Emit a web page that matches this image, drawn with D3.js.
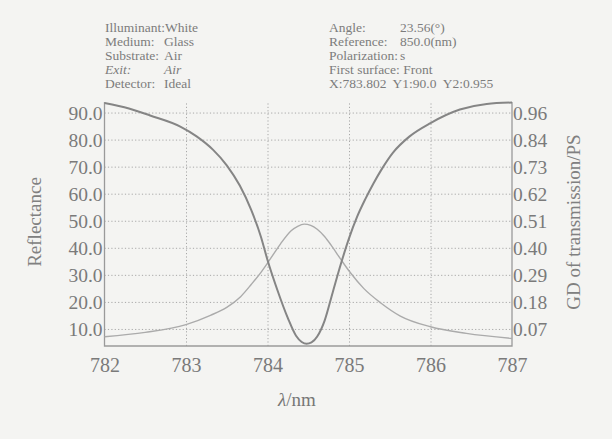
<!DOCTYPE html>
<html>
<head>
<meta charset="utf-8">
<script src="https://cdn.jsdelivr.net/npm/d3@7"></script>
<style>
  body { margin: 0; background: #f4f4f2; }
  svg { display: block; font-family: "Liberation Serif", "DejaVu Serif", serif; }
  .axis path, .axis line { stroke: none; }
  .axis text { fill: #7a7a7a; font-family: "Liberation Serif", serif; }
  .grid line { stroke: #a8a8a8; stroke-dasharray: 1.2, 2.2; }
  .grid path { stroke: none; }
  .info { fill: #7c7c7c; font-size: 13.5px; }
</style>
</head>
<body>
<svg id="chart"></svg>
<script>
const width = 612;
const height = 439;

// wavelength (nm) / reflectance (%)
const reflWl  = [782.0, 782.3, 782.56, 782.93, 783.13, 783.33, 783.5, 783.66, 783.8, 783.92, 784.0, 784.12, 784.25, 784.35, 784.42, 784.48, 784.54, 784.61, 784.7, 784.8, 784.9, 785.0, 785.1, 785.2, 785.3, 785.4, 785.54, 785.74, 786.0, 786.36, 786.69, 787.0];
const reflVal = [93.5, 91.5, 88.9, 84.8, 81.2, 76.3, 70.5, 63.0, 54.0, 44.0, 35.5, 24.5, 14.0, 7.5, 5.2, 4.5, 5.0, 7.2, 13.0, 23.5, 34.0, 43.5, 51.5, 58.0, 63.8, 69.0, 75.2, 81.1, 86.1, 91.1, 93.2, 93.7];

// wavelength (nm) / GD of transmission (ps)
const gdWl  = [782.0, 782.5, 783.0, 783.3, 783.5, 783.67, 783.8, 783.92, 784.0, 784.08, 784.16, 784.29, 784.37, 784.45, 784.53, 784.61, 784.7, 784.78, 784.9, 785.02, 785.18, 785.39, 785.63, 786.0, 786.44, 787.0];
const gdVal = [0.038, 0.056, 0.088, 0.126, 0.159, 0.203, 0.253, 0.303, 0.341, 0.381, 0.420, 0.474, 0.492, 0.501, 0.496, 0.480, 0.450, 0.415, 0.356, 0.300, 0.237, 0.177, 0.123, 0.079, 0.052, 0.031];

const xTicks = [782, 783, 784, 785, 786, 787];
const leftTicks = [10, 20, 30, 40, 50, 60, 70, 80, 90];
const rightTickLabels = ['0.07', '0.18', '0.29', '0.40', '0.51', '0.62', '0.73', '0.84', '0.96'];

const infoLeft = [['Illuminant:White', ''], ['Medium:', 'Glass'], ['Substrate:', 'Air'], ['Exit:', 'Air'], ['Detector:', 'Ideal']];
const infoRight = [['Angle:', '23.56(\u00b0)'], ['Reference:', '850.0(nm)'], ['Polarization:', 's'], ['First surface: Front', ''], ['X:783.802  Y1:90.0  Y2:0.955', '']];

const plot = {left: 104.5, right: 512, top: 102, bottom: 346};

const svg = d3.select('#chart').attr('width', width).attr('height', height);

svg.append('rect').attr('width', width).attr('height', height).attr('fill', '#f4f4f2');

const x = d3.scaleLinear().domain([782, 787]).range([plot.left, plot.right]);
const y = d3.scaleLinear().domain([3.7, 93.9]).range([plot.bottom, plot.top]);
const y2 = d3.scaleLinear().domain([0, 1.0034]).range([plot.bottom, plot.top]);

// grid
svg.append('g').attr('class', 'grid')
    .attr('transform', `translate(0, ${plot.bottom})`)
    .call(d3.axisBottom(x).tickValues([783, 784, 785, 786]).tickSize(-(plot.bottom - plot.top)).tickFormat(''));
svg.append('g').attr('class', 'grid')
    .attr('transform', `translate(${plot.left}, 0)`)
    .call(d3.axisLeft(y).tickValues(leftTicks).tickSize(-(plot.right - plot.left)).tickFormat(''));

// frame: left, right, bottom
svg.append('path')
    .attr('d', `M${plot.left},${plot.top}V${plot.bottom}H${plot.right}V${plot.top}`)
    .attr('fill', 'none').attr('stroke', '#9a9a9a').attr('stroke-width', 1.3);

// axes
const xAxis = svg.append('g').attr('class', 'axis')
    .attr('transform', `translate(0, ${plot.bottom})`)
    .call(d3.axisBottom(x).tickValues(xTicks).tickFormat(d3.format('d')).tickSize(0).tickPadding(12));
xAxis.selectAll('text').style('font-size', '20px');

const yAxis = svg.append('g').attr('class', 'axis')
    .attr('transform', `translate(${plot.left - 1}, 0)`)
    .call(d3.axisLeft(y).tickValues(leftTicks).tickFormat(d3.format('.1f')).tickSize(0).tickPadding(1));
yAxis.selectAll('text').style('font-size', '19.5px').attr('dy', '0.36em');

const yAxis2 = svg.append('g').attr('class', 'axis')
    .attr('transform', `translate(${plot.right}, 0)`)
    .call(d3.axisRight(y).tickValues(leftTicks).tickFormat((d, i) => rightTickLabels[i]).tickSize(0).tickPadding(1));
yAxis2.selectAll('text').style('font-size', '19.5px').attr('dy', '0.36em');

// curves
const reflData = reflWl.map((w, i) => ({w: w, v: reflVal[i]}));
const gdData = gdWl.map((w, i) => ({w: w, v: gdVal[i]}));

svg.append('path')
    .datum(gdData)
    .attr('fill', 'none')
    .attr('stroke', '#ababab')
    .attr('stroke-width', 1.4)
    .attr('d', d3.line().curve(d3.curveMonotoneX)
        .x(function(d) { return x(d.w); })
        .y(function(d) { return y2(d.v); }));

svg.append('path')
    .datum(reflData)
    .attr('fill', 'none')
    .attr('stroke', '#858585')
    .attr('stroke-width', 2)
    .attr('d', d3.line().curve(d3.curveMonotoneX)
        .x(function(d) { return x(d.w); })
        .y(function(d) { return y(d.v); }));

// axis titles
svg.append('text')
    .attr('x', 297).attr('y', 406)
    .attr('text-anchor', 'middle')
    .attr('fill', '#777').style('font-size', '19px')
    .html('<tspan font-style="italic">\u03bb</tspan>/nm');

svg.append('text')
    .attr('transform', 'translate(41, 222) rotate(-90)')
    .attr('text-anchor', 'middle')
    .attr('fill', '#808080').style('font-size', '19px')
    .text('Reflectance');

svg.append('text')
    .attr('transform', 'translate(580, 222) rotate(-90)')
    .attr('text-anchor', 'middle')
    .attr('fill', '#808080').style('font-size', '19px')
    .text('GD of transmission/PS');

// header info
const rowY = [31.5, 45.8, 60, 74.2, 88.4];
infoLeft.forEach(function(r, i) {
    const italic = r[0] == 'Exit:';
    svg.append('text').attr('class', 'info').attr('x', 105).attr('y', rowY[i])
        .style('font-style', italic ? 'italic' : 'normal').text(r[0]);
    if (r[1]) {
        svg.append('text').attr('class', 'info').attr('x', 164).attr('y', rowY[i])
            .style('font-style', italic ? 'italic' : 'normal').text(r[1]);
    }
});
infoRight.forEach(function(r, i) {
    svg.append('text').attr('class', 'info').attr('x', 329).attr('y', rowY[i])
        .attr('xml:space', 'preserve').style('white-space', 'pre').text(r[0]);
    if (r[1]) {
        svg.append('text').attr('class', 'info').attr('x', 400).attr('y', rowY[i]).text(r[1]);
    }
});
</script>
</body>
</html>
